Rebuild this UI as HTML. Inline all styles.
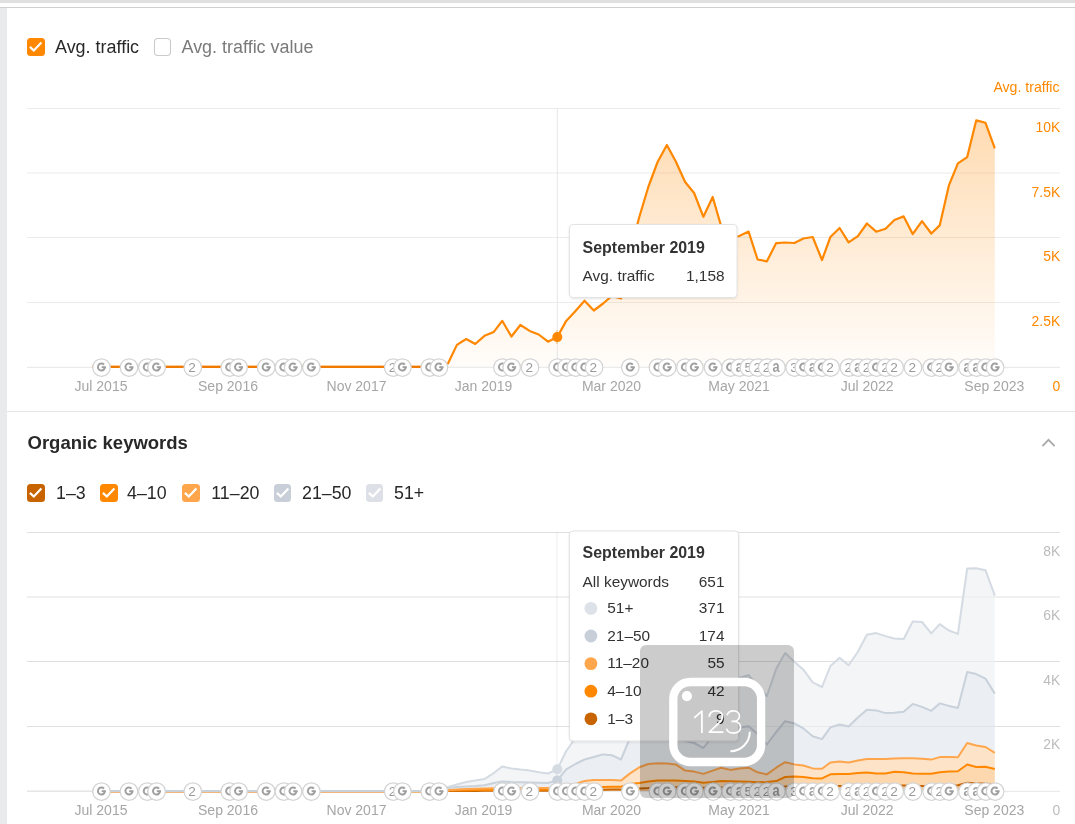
<!DOCTYPE html>
<html><head><meta charset="utf-8"><style>
html,body{margin:0;padding:0;background:#fff;width:1075px;height:824px;overflow:hidden}
svg{display:block;will-change:transform;font-family:"Liberation Sans",sans-serif}
.lbl{font-size:17.95px;fill:#282828}
.lbl2{font-size:17.8px;fill:#282828}
.g7{fill:#7a7a7a}
.h2{font-size:18.5px;font-weight:bold;fill:#282828}
.xl{font-size:14px;fill:#a6a6a6}
.yl1{font-size:13.9px;fill:#ff8800}
.yl1b{font-size:14.1px;fill:#ff8800}
.yl2{font-size:13.9px;fill:#bcbcbc}
.mk{font-size:13.6px;fill:#9a9a9a}
.mka{font-size:12.2px;font-weight:bold;fill:#9e9e9e}
.tth{font-size:15.95px;font-weight:bold;fill:#333}
.ttt{font-size:15.4px;fill:#333}
.ocr{font-size:29px;fill:#fff;font-weight:normal}
</style></head><body>
<svg width="1075" height="824" viewBox="0 0 1075 824">
<defs><filter id="sh" x="-10%" y="-10%" width="120%" height="130%"><feDropShadow dx="0" dy="1" stdDeviation="1.2" flood-color="#000" flood-opacity="0.10"/></filter></defs>
<rect x="0" y="0" width="1075" height="3" fill="#e0e0e0"/>
<rect x="0" y="7" width="1075" height="1" fill="#cfd1d1"/>
<rect x="0" y="8" width="7" height="816" fill="#e9eaec"/>
<rect x="7" y="411" width="1068" height="1" fill="#e6e6e6"/>
<rect x="27" y="38" width="18" height="18" rx="3.5" fill="#ff8800"/><path d="M29.9,46.9 l3.9,3.6 l7.6,-7.9" fill="none" stroke="#fff" stroke-width="2.2"/>
<text x="55" y="52.7" class="lbl">Avg. traffic</text>
<rect x="154.5" y="38.5" width="16" height="17" rx="3.5" fill="#fff" stroke="#cacaca" stroke-width="1.1"/>
<text x="181.5" y="52.7" class="lbl g7">Avg. traffic value</text>
<text x="27.5" y="449" class="h2">Organic keywords</text>
<path d="M1042.4,446.1 L1048.5,439.8 L1054.6,446.1" fill="none" stroke="#a9a9a9" stroke-width="1.8"/>
<rect x="27" y="484" width="18" height="18" rx="3.5" fill="#c86400"/><path d="M29.9,492.9 l3.9,3.6 l7.6,-7.9" fill="none" stroke="#fff" stroke-width="2.2"/>
<text x="56" y="498.8" class="lbl2">1–3</text>
<rect x="100" y="484" width="18" height="18" rx="3.5" fill="#ff8800"/><path d="M102.9,492.9 l3.9,3.6 l7.6,-7.9" fill="none" stroke="#fff" stroke-width="2.2"/>
<text x="127" y="498.8" class="lbl2">4–10</text>
<rect x="182" y="484" width="18" height="18" rx="3.5" fill="#ffa64d"/><path d="M184.9,492.9 l3.9,3.6 l7.6,-7.9" fill="none" stroke="#fff" stroke-width="2.2"/>
<text x="211.3" y="498.8" class="lbl2">11–20</text>
<rect x="274" y="484" width="17" height="18" rx="3.5" fill="#c8cfd8"/><path d="M276.9,492.9 l3.9,3.6 l7.6,-7.9" fill="none" stroke="#fff" stroke-width="2.2"/>
<text x="302" y="498.8" class="lbl2">21–50</text>
<rect x="366" y="484" width="17" height="18" rx="3.5" fill="#dde1e7"/><path d="M368.9,492.9 l3.9,3.6 l7.6,-7.9" fill="none" stroke="#fff" stroke-width="2.2"/>
<text x="394" y="498.8" class="lbl2">51+</text>
<rect x="27" y="108" width="1033" height="1" fill="#ebebeb"/>
<rect x="27" y="172.5" width="1033" height="1" fill="#ebebeb"/>
<rect x="27" y="237" width="1033" height="1" fill="#ebebeb"/>
<rect x="27" y="302" width="1033" height="1" fill="#ebebeb"/>
<rect x="27" y="366.8" width="1033" height="1" fill="#e6e6e6"/>
<defs><linearGradient id="g1" x1="0" y1="0" x2="0" y2="1" gradientUnits="objectBoundingBox"><stop offset="0" stop-color="#ff8800" stop-opacity="0.30"/><stop offset="1" stop-color="#ff8800" stop-opacity="0.02"/></linearGradient></defs>
<polygon points="438.7,366.9 448,363.5 456.9,344.9 466.2,339 475.2,344 484.5,335.8 493.8,331.9 502.2,320.8 511.4,336.5 520.4,325 529.7,330.9 538.7,334.5 548,341.7 557.3,337.1 566.2,320.9 575.5,311 584.5,300.7 593.8,310.5 603.1,303.5 611.8,296 621,298.5 630,252 639.3,217 648.3,187 657.6,162 666.9,145 675.8,161.5 685.1,182 694.1,193 703.4,216.8 712.7,197 721.1,226 730.3,238 739.3,236 748.6,231.6 757.6,259.5 766.9,261.3 776.2,243.1 785.1,242.5 794.4,243 803.4,238.5 812.7,237 822,260 830.4,237 839.6,228 848.6,242.4 857.9,236.1 866.9,223.5 876.2,231.7 885.5,228.8 894.4,220 903.7,216.4 912.7,234.1 922,221.2 931.3,233.5 939.7,225.4 948.9,185.4 957.9,163.4 967.2,157.1 976.2,120.4 985.5,122.8 994.8,148.4 994.8,366.9" fill="url(#g1)"/>
<rect x="556.8" y="108" width="1" height="259" fill="#e6e6e6"/>
<polyline points="92.2,366.9 438.7,366.9 448,363.5 456.9,344.9 466.2,339 475.2,344 484.5,335.8 493.8,331.9 502.2,320.8 511.4,336.5 520.4,325 529.7,330.9 538.7,334.5 548,341.7 557.3,337.1 566.2,320.9 575.5,311 584.5,300.7 593.8,310.5 603.1,303.5 611.8,296 621,298.5 630,252 639.3,217 648.3,187 657.6,162 666.9,145 675.8,161.5 685.1,182 694.1,193 703.4,216.8 712.7,197 721.1,226 730.3,238 739.3,236 748.6,231.6 757.6,259.5 766.9,261.3 776.2,243.1 785.1,242.5 794.4,243 803.4,238.5 812.7,237 822,260 830.4,237 839.6,228 848.6,242.4 857.9,236.1 866.9,223.5 876.2,231.7 885.5,228.8 894.4,220 903.7,216.4 912.7,234.1 922,221.2 931.3,233.5 939.7,225.4 948.9,185.4 957.9,163.4 967.2,157.1 976.2,120.4 985.5,122.8 994.8,148.4" fill="none" stroke="#ff8800" stroke-width="2.2" stroke-linejoin="round"/>
<rect x="92.2" y="365.8" width="346.5" height="2.1" fill="#ef7800"/>
<circle cx="557.3" cy="337.1" r="5" fill="#ff8800"/>
<rect x="556.5" y="330" width="1" height="14" fill="#e08000" opacity="0.5"/>
<circle cx="101.5" cy="367.5" r="8.75" fill="#fff" stroke="#d4d4d4" stroke-width="1.25"/><path d="M104,364.7 A3.5,3.5 0 1 0 104.9,367.1" fill="none" stroke="#a0a0a0" stroke-width="2"/><rect x="101.7" y="366.2" width="4.2" height="1.9" fill="#a0a0a0"/>
<circle cx="129" cy="367.5" r="8.75" fill="#fff" stroke="#d4d4d4" stroke-width="1.25"/><path d="M131.6,364.7 A3.5,3.5 0 1 0 132.4,367.1" fill="none" stroke="#a0a0a0" stroke-width="2"/><rect x="129.2" y="366.2" width="4.2" height="1.9" fill="#a0a0a0"/>
<circle cx="147.3" cy="367.5" r="8.75" fill="#fff" stroke="#d4d4d4" stroke-width="1.25"/><path d="M149.8,364.7 A3.5,3.5 0 1 0 150.7,367.1" fill="none" stroke="#a0a0a0" stroke-width="2"/><rect x="147.5" y="366.2" width="4.2" height="1.9" fill="#a0a0a0"/>
<circle cx="156.6" cy="367.5" r="8.75" fill="#fff" stroke="#d4d4d4" stroke-width="1.25"/><path d="M159.1,364.7 A3.5,3.5 0 1 0 160,367.1" fill="none" stroke="#a0a0a0" stroke-width="2"/><rect x="156.8" y="366.2" width="4.2" height="1.9" fill="#a0a0a0"/>
<circle cx="192.8" cy="367.5" r="8.75" fill="#fff" stroke="#d4d4d4" stroke-width="1.25"/><text x="192.1" y="372" text-anchor="middle" class="mk">2</text>
<circle cx="229.7" cy="367.5" r="8.75" fill="#fff" stroke="#d4d4d4" stroke-width="1.25"/><path d="M232.2,364.7 A3.5,3.5 0 1 0 233.1,367.1" fill="none" stroke="#a0a0a0" stroke-width="2"/><rect x="229.9" y="366.2" width="4.2" height="1.9" fill="#a0a0a0"/>
<circle cx="238.6" cy="367.5" r="8.75" fill="#fff" stroke="#d4d4d4" stroke-width="1.25"/><path d="M241.1,364.7 A3.5,3.5 0 1 0 242,367.1" fill="none" stroke="#a0a0a0" stroke-width="2"/><rect x="238.8" y="366.2" width="4.2" height="1.9" fill="#a0a0a0"/>
<circle cx="266.2" cy="367.5" r="8.75" fill="#fff" stroke="#d4d4d4" stroke-width="1.25"/><path d="M268.7,364.7 A3.5,3.5 0 1 0 269.6,367.1" fill="none" stroke="#a0a0a0" stroke-width="2"/><rect x="266.4" y="366.2" width="4.2" height="1.9" fill="#a0a0a0"/>
<circle cx="283.9" cy="367.5" r="8.75" fill="#fff" stroke="#d4d4d4" stroke-width="1.25"/><path d="M286.4,364.7 A3.5,3.5 0 1 0 287.3,367.1" fill="none" stroke="#a0a0a0" stroke-width="2"/><rect x="284.1" y="366.2" width="4.2" height="1.9" fill="#a0a0a0"/>
<circle cx="293.1" cy="367.5" r="8.75" fill="#fff" stroke="#d4d4d4" stroke-width="1.25"/><path d="M295.6,364.7 A3.5,3.5 0 1 0 296.5,367.1" fill="none" stroke="#a0a0a0" stroke-width="2"/><rect x="293.3" y="366.2" width="4.2" height="1.9" fill="#a0a0a0"/>
<circle cx="311.4" cy="367.5" r="8.75" fill="#fff" stroke="#d4d4d4" stroke-width="1.25"/><path d="M313.9,364.7 A3.5,3.5 0 1 0 314.8,367.1" fill="none" stroke="#a0a0a0" stroke-width="2"/><rect x="311.6" y="366.2" width="4.2" height="1.9" fill="#a0a0a0"/>
<circle cx="393.2" cy="367.5" r="8.75" fill="#fff" stroke="#d4d4d4" stroke-width="1.25"/><text x="392.5" y="372" text-anchor="middle" class="mk">2</text>
<circle cx="402.4" cy="367.5" r="8.75" fill="#fff" stroke="#d4d4d4" stroke-width="1.25"/><path d="M404.9,364.7 A3.5,3.5 0 1 0 405.8,367.1" fill="none" stroke="#a0a0a0" stroke-width="2"/><rect x="402.6" y="366.2" width="4.2" height="1.9" fill="#a0a0a0"/>
<circle cx="429.7" cy="367.5" r="8.75" fill="#fff" stroke="#d4d4d4" stroke-width="1.25"/><path d="M432.2,364.7 A3.5,3.5 0 1 0 433.1,367.1" fill="none" stroke="#a0a0a0" stroke-width="2"/><rect x="429.9" y="366.2" width="4.2" height="1.9" fill="#a0a0a0"/>
<circle cx="439" cy="367.5" r="8.75" fill="#fff" stroke="#d4d4d4" stroke-width="1.25"/><path d="M441.5,364.7 A3.5,3.5 0 1 0 442.4,367.1" fill="none" stroke="#a0a0a0" stroke-width="2"/><rect x="439.2" y="366.2" width="4.2" height="1.9" fill="#a0a0a0"/>
<circle cx="502.5" cy="367.5" r="8.75" fill="#fff" stroke="#d4d4d4" stroke-width="1.25"/><path d="M505,364.7 A3.5,3.5 0 1 0 505.9,367.1" fill="none" stroke="#a0a0a0" stroke-width="2"/><rect x="502.7" y="366.2" width="4.2" height="1.9" fill="#a0a0a0"/>
<circle cx="511.7" cy="367.5" r="8.75" fill="#fff" stroke="#d4d4d4" stroke-width="1.25"/><path d="M514.2,364.7 A3.5,3.5 0 1 0 515.1,367.1" fill="none" stroke="#a0a0a0" stroke-width="2"/><rect x="511.9" y="366.2" width="4.2" height="1.9" fill="#a0a0a0"/>
<circle cx="530" cy="367.5" r="8.75" fill="#fff" stroke="#d4d4d4" stroke-width="1.25"/><text x="529.3" y="372" text-anchor="middle" class="mk">2</text>
<circle cx="557.6" cy="367.5" r="8.75" fill="#fff" stroke="#d4d4d4" stroke-width="1.25"/><path d="M560.1,364.7 A3.5,3.5 0 1 0 561,367.1" fill="none" stroke="#a0a0a0" stroke-width="2"/><rect x="557.8" y="366.2" width="4.2" height="1.9" fill="#a0a0a0"/>
<circle cx="566.5" cy="367.5" r="8.75" fill="#fff" stroke="#d4d4d4" stroke-width="1.25"/><path d="M569,364.7 A3.5,3.5 0 1 0 569.9,367.1" fill="none" stroke="#a0a0a0" stroke-width="2"/><rect x="566.7" y="366.2" width="4.2" height="1.9" fill="#a0a0a0"/>
<circle cx="575.8" cy="367.5" r="8.75" fill="#fff" stroke="#d4d4d4" stroke-width="1.25"/><path d="M578.3,364.7 A3.5,3.5 0 1 0 579.2,367.1" fill="none" stroke="#a0a0a0" stroke-width="2"/><rect x="576" y="366.2" width="4.2" height="1.9" fill="#a0a0a0"/>
<circle cx="584.8" cy="367.5" r="8.75" fill="#fff" stroke="#d4d4d4" stroke-width="1.25"/><path d="M587.3,364.7 A3.5,3.5 0 1 0 588.2,367.1" fill="none" stroke="#a0a0a0" stroke-width="2"/><rect x="585" y="366.2" width="4.2" height="1.9" fill="#a0a0a0"/>
<circle cx="594.1" cy="367.5" r="8.75" fill="#fff" stroke="#d4d4d4" stroke-width="1.25"/><text x="593.4" y="372" text-anchor="middle" class="mk">2</text>
<circle cx="630.3" cy="367.5" r="8.75" fill="#fff" stroke="#d4d4d4" stroke-width="1.25"/><path d="M632.8,364.7 A3.5,3.5 0 1 0 633.7,367.1" fill="none" stroke="#a0a0a0" stroke-width="2"/><rect x="630.5" y="366.2" width="4.2" height="1.9" fill="#a0a0a0"/>
<circle cx="657.9" cy="367.5" r="8.75" fill="#fff" stroke="#d4d4d4" stroke-width="1.25"/><path d="M660.4,364.7 A3.5,3.5 0 1 0 661.3,367.1" fill="none" stroke="#a0a0a0" stroke-width="2"/><rect x="658.1" y="366.2" width="4.2" height="1.9" fill="#a0a0a0"/>
<circle cx="667.2" cy="367.5" r="8.75" fill="#fff" stroke="#d4d4d4" stroke-width="1.25"/><path d="M669.7,364.7 A3.5,3.5 0 1 0 670.6,367.1" fill="none" stroke="#a0a0a0" stroke-width="2"/><rect x="667.4" y="366.2" width="4.2" height="1.9" fill="#a0a0a0"/>
<circle cx="685.4" cy="367.5" r="8.75" fill="#fff" stroke="#d4d4d4" stroke-width="1.25"/><path d="M687.9,364.7 A3.5,3.5 0 1 0 688.8,367.1" fill="none" stroke="#a0a0a0" stroke-width="2"/><rect x="685.6" y="366.2" width="4.2" height="1.9" fill="#a0a0a0"/>
<circle cx="694.4" cy="367.5" r="8.75" fill="#fff" stroke="#d4d4d4" stroke-width="1.25"/><path d="M696.9,364.7 A3.5,3.5 0 1 0 697.8,367.1" fill="none" stroke="#a0a0a0" stroke-width="2"/><rect x="694.6" y="366.2" width="4.2" height="1.9" fill="#a0a0a0"/>
<circle cx="713" cy="367.5" r="8.75" fill="#fff" stroke="#d4d4d4" stroke-width="1.25"/><path d="M715.5,364.7 A3.5,3.5 0 1 0 716.4,367.1" fill="none" stroke="#a0a0a0" stroke-width="2"/><rect x="713.2" y="366.2" width="4.2" height="1.9" fill="#a0a0a0"/>
<circle cx="730.6" cy="367.5" r="8.75" fill="#fff" stroke="#d4d4d4" stroke-width="1.25"/><path d="M733.1,364.7 A3.5,3.5 0 1 0 734,367.1" fill="none" stroke="#a0a0a0" stroke-width="2"/><rect x="730.8" y="366.2" width="4.2" height="1.9" fill="#a0a0a0"/>
<circle cx="739.6" cy="367.5" r="8.75" fill="#fff" stroke="#d4d4d4" stroke-width="1.25"/><text transform="translate(739.2,371.9) scale(1.05,1.38)" text-anchor="middle" class="mka">a</text>
<circle cx="748.9" cy="367.5" r="8.75" fill="#fff" stroke="#d4d4d4" stroke-width="1.25"/><text x="748.2" y="372" text-anchor="middle" class="mk">5</text>
<circle cx="757.9" cy="367.5" r="8.75" fill="#fff" stroke="#d4d4d4" stroke-width="1.25"/><text x="757.2" y="372" text-anchor="middle" class="mk">2</text>
<circle cx="767.2" cy="367.5" r="8.75" fill="#fff" stroke="#d4d4d4" stroke-width="1.25"/><text x="766.5" y="372" text-anchor="middle" class="mk">2</text>
<circle cx="776.5" cy="367.5" r="8.75" fill="#fff" stroke="#d4d4d4" stroke-width="1.25"/><text transform="translate(776.1,371.9) scale(1.05,1.38)" text-anchor="middle" class="mka">a</text>
<circle cx="794.7" cy="367.5" r="8.75" fill="#fff" stroke="#d4d4d4" stroke-width="1.25"/><text x="794" y="372" text-anchor="middle" class="mk">3</text>
<circle cx="803.7" cy="367.5" r="8.75" fill="#fff" stroke="#d4d4d4" stroke-width="1.25"/><path d="M806.2,364.7 A3.5,3.5 0 1 0 807.1,367.1" fill="none" stroke="#a0a0a0" stroke-width="2"/><rect x="803.9" y="366.2" width="4.2" height="1.9" fill="#a0a0a0"/>
<circle cx="813" cy="367.5" r="8.75" fill="#fff" stroke="#d4d4d4" stroke-width="1.25"/><text transform="translate(812.6,371.9) scale(1.05,1.38)" text-anchor="middle" class="mka">a</text>
<circle cx="822.3" cy="367.5" r="8.75" fill="#fff" stroke="#d4d4d4" stroke-width="1.25"/><path d="M824.8,364.7 A3.5,3.5 0 1 0 825.7,367.1" fill="none" stroke="#a0a0a0" stroke-width="2"/><rect x="822.5" y="366.2" width="4.2" height="1.9" fill="#a0a0a0"/>
<circle cx="830.7" cy="367.5" r="8.75" fill="#fff" stroke="#d4d4d4" stroke-width="1.25"/><text x="830" y="372" text-anchor="middle" class="mk">2</text>
<circle cx="848.9" cy="367.5" r="8.75" fill="#fff" stroke="#d4d4d4" stroke-width="1.25"/><text x="848.2" y="372" text-anchor="middle" class="mk">2</text>
<circle cx="858.2" cy="367.5" r="8.75" fill="#fff" stroke="#d4d4d4" stroke-width="1.25"/><text transform="translate(857.8,371.9) scale(1.05,1.38)" text-anchor="middle" class="mka">a</text>
<circle cx="867.2" cy="367.5" r="8.75" fill="#fff" stroke="#d4d4d4" stroke-width="1.25"/><text x="866.5" y="372" text-anchor="middle" class="mk">2</text>
<circle cx="876.5" cy="367.5" r="8.75" fill="#fff" stroke="#d4d4d4" stroke-width="1.25"/><path d="M879,364.7 A3.5,3.5 0 1 0 879.9,367.1" fill="none" stroke="#a0a0a0" stroke-width="2"/><rect x="876.7" y="366.2" width="4.2" height="1.9" fill="#a0a0a0"/>
<circle cx="885.8" cy="367.5" r="8.75" fill="#fff" stroke="#d4d4d4" stroke-width="1.25"/><text x="885.1" y="372" text-anchor="middle" class="mk">2</text>
<circle cx="894.7" cy="367.5" r="8.75" fill="#fff" stroke="#d4d4d4" stroke-width="1.25"/><text x="894" y="372" text-anchor="middle" class="mk">2</text>
<circle cx="913" cy="367.5" r="8.75" fill="#fff" stroke="#d4d4d4" stroke-width="1.25"/><text x="912.3" y="372" text-anchor="middle" class="mk">2</text>
<circle cx="931.6" cy="367.5" r="8.75" fill="#fff" stroke="#d4d4d4" stroke-width="1.25"/><path d="M934.1,364.7 A3.5,3.5 0 1 0 935,367.1" fill="none" stroke="#a0a0a0" stroke-width="2"/><rect x="931.8" y="366.2" width="4.2" height="1.9" fill="#a0a0a0"/>
<circle cx="940" cy="367.5" r="8.75" fill="#fff" stroke="#d4d4d4" stroke-width="1.25"/><text x="939.3" y="372" text-anchor="middle" class="mk">2</text>
<circle cx="949.2" cy="367.5" r="8.75" fill="#fff" stroke="#d4d4d4" stroke-width="1.25"/><path d="M951.7,364.7 A3.5,3.5 0 1 0 952.6,367.1" fill="none" stroke="#a0a0a0" stroke-width="2"/><rect x="949.4" y="366.2" width="4.2" height="1.9" fill="#a0a0a0"/>
<circle cx="967.5" cy="367.5" r="8.75" fill="#fff" stroke="#d4d4d4" stroke-width="1.25"/><text transform="translate(967.1,371.9) scale(1.05,1.38)" text-anchor="middle" class="mka">a</text>
<circle cx="976.5" cy="367.5" r="8.75" fill="#fff" stroke="#d4d4d4" stroke-width="1.25"/><text transform="translate(976.1,371.9) scale(1.05,1.38)" text-anchor="middle" class="mka">a</text>
<circle cx="985.8" cy="367.5" r="8.75" fill="#fff" stroke="#d4d4d4" stroke-width="1.25"/><path d="M988.3,364.7 A3.5,3.5 0 1 0 989.2,367.1" fill="none" stroke="#a0a0a0" stroke-width="2"/><rect x="986" y="366.2" width="4.2" height="1.9" fill="#a0a0a0"/>
<circle cx="995.1" cy="367.5" r="8.75" fill="#fff" stroke="#d4d4d4" stroke-width="1.25"/><path d="M997.6,364.7 A3.5,3.5 0 1 0 998.5,367.1" fill="none" stroke="#a0a0a0" stroke-width="2"/><rect x="995.3" y="366.2" width="4.2" height="1.9" fill="#a0a0a0"/>
<text x="101" y="390.9" text-anchor="middle" class="xl">Jul 2015</text>
<text x="228" y="390.9" text-anchor="middle" class="xl">Sep 2016</text>
<text x="356.5" y="390.9" text-anchor="middle" class="xl">Nov 2017</text>
<text x="483.5" y="390.9" text-anchor="middle" class="xl">Jan 2019</text>
<text x="611.5" y="390.9" text-anchor="middle" class="xl">Mar 2020</text>
<text x="739.1" y="390.9" text-anchor="middle" class="xl">May 2021</text>
<text x="867.2" y="390.9" text-anchor="middle" class="xl">Jul 2022</text>
<text x="994.3" y="390.9" text-anchor="middle" class="xl">Sep 2023</text>
<text x="1060.2" y="132" text-anchor="end" class="yl1">10K</text>
<text x="1060.2" y="196.5" text-anchor="end" class="yl1">7.5K</text>
<text x="1060.2" y="261" text-anchor="end" class="yl1">5K</text>
<text x="1060.2" y="325.5" text-anchor="end" class="yl1">2.5K</text>
<text x="1060.2" y="390.6" text-anchor="end" class="yl1">0</text>
<text x="1059.5" y="92" text-anchor="end" class="yl1b">Avg. traffic</text>
<rect x="27" y="532" width="1033" height="1" fill="#ebebeb"/>
<rect x="27" y="596.5" width="1033" height="1" fill="#ebebeb"/>
<rect x="27" y="661" width="1033" height="1" fill="#ebebeb"/>
<rect x="27" y="726" width="1033" height="1" fill="#ebebeb"/>
<rect x="27" y="790.8" width="1033" height="1" fill="#e6e6e6"/>
<polygon points="438.7,791 448,787 456.9,784.5 466.2,782 475.2,780.5 484.5,779.1 493.8,773 502.2,766.5 511.4,768.5 520.4,769.6 529.7,770.4 538.7,772.2 548,773.5 557.3,769.3 566.2,751 575.5,738 584.5,728 593.8,730 603.1,724 611.8,720 621,724 630,702 639.3,690 648.3,680 657.6,672 666.9,666 675.8,672 685.1,680 694.1,686 703.4,694 712.7,688 721.1,690 730.3,684 739.3,677.7 748.6,675.2 757.6,686 766.9,696 776.2,668.7 785.1,653 794.4,661.7 803.4,669.7 812.7,682.4 822,687 830.4,666 839.6,657.7 848.6,665.3 857.9,651.7 866.9,634.8 876.2,633.1 885.5,636.1 894.4,638.5 903.7,639 912.7,621.5 922,622 931.3,633.4 939.7,624.2 948.9,630.5 957.9,633.9 967.2,568.5 976.2,568.2 985.5,570.2 994.8,595.7 994.8,693.6 985.5,678.6 976.2,674.1 967.2,672.1 957.9,707.9 948.9,705.9 939.7,703.4 931.3,710.8 922,706.9 912.7,703.9 903.7,711.8 894.4,712.7 885.5,713.1 876.2,710.4 866.9,709.8 857.9,717.6 848.6,726.4 839.6,724.5 830.4,727.4 822,739.1 812.7,736.2 803.4,728.4 794.4,723.5 785.1,721.2 776.2,732 766.9,744.5 757.6,734 748.6,726.2 739.3,727.5 730.3,730 721.1,732 712.7,736 703.4,748 694.1,743 685.1,741 675.8,739 666.9,737 657.6,735 648.3,733 639.3,735 630,738 621,759.5 611.8,755.2 603.1,754.4 593.8,757 584.5,759.5 575.5,764 566.2,769.4 557.3,780.4 548,783 538.7,782.8 529.7,782.5 520.4,782.3 511.4,782 502.2,781.4 493.8,783 484.5,785.2 475.2,786 466.2,786.5 456.9,787 448,788 438.7,791" fill="#f3f5f7"/>
<polygon points="438.7,791 448,788 456.9,787 466.2,786.5 475.2,786 484.5,785.2 493.8,783 502.2,781.4 511.4,782 520.4,782.3 529.7,782.5 538.7,782.8 548,783 557.3,780.4 566.2,769.4 575.5,764 584.5,759.5 593.8,757 603.1,754.4 611.8,755.2 621,759.5 630,738 639.3,735 648.3,733 657.6,735 666.9,737 675.8,739 685.1,741 694.1,743 703.4,748 712.7,736 721.1,732 730.3,730 739.3,727.5 748.6,726.2 757.6,734 766.9,744.5 776.2,732 785.1,721.2 794.4,723.5 803.4,728.4 812.7,736.2 822,739.1 830.4,727.4 839.6,724.5 848.6,726.4 857.9,717.6 866.9,709.8 876.2,710.4 885.5,713.1 894.4,712.7 903.7,711.8 912.7,703.9 922,706.9 931.3,710.8 939.7,703.4 948.9,705.9 957.9,707.9 967.2,672.1 976.2,674.1 985.5,678.6 994.8,693.6 994.8,752.9 985.5,747 976.2,745.5 967.2,743 957.9,757.2 948.9,757 939.7,757.1 931.3,759.6 922,758.8 912.7,758.2 903.7,758.2 894.4,758.6 885.5,759 876.2,759 866.9,759 857.9,760.6 848.6,762.5 839.6,761.6 830.4,762.5 822,768.8 812.7,768.4 803.4,765.5 794.4,764.4 785.1,762.2 776.2,767.7 766.9,774.4 757.6,772.3 748.6,767.7 739.3,768.6 730.3,769.9 721.1,767.7 712.7,770.6 703.4,773.9 694.1,771.6 685.1,770.6 675.8,764.4 666.9,763.5 657.6,763.2 648.3,764 639.3,767.3 630,773.4 621,780.6 611.8,780.1 603.1,780 593.8,780 584.5,781 575.5,784 566.2,785.5 557.3,787.6 548,787.9 538.7,787.9 529.7,787.9 520.4,788 511.4,788.1 502.2,788 493.8,788.2 484.5,788.4 475.2,788.7 466.2,789 456.9,789.5 448,790 438.7,791" fill="#ebeff3"/>
<polygon points="438.7,791 448,790 456.9,789.5 466.2,789 475.2,788.7 484.5,788.4 493.8,788.2 502.2,788 511.4,788.1 520.4,788 529.7,787.9 538.7,787.9 548,787.9 557.3,787.6 566.2,785.5 575.5,784 584.5,781 593.8,780 603.1,780 611.8,780.1 621,780.6 630,773.4 639.3,767.3 648.3,764 657.6,763.2 666.9,763.5 675.8,764.4 685.1,770.6 694.1,771.6 703.4,773.9 712.7,770.6 721.1,767.7 730.3,769.9 739.3,768.6 748.6,767.7 757.6,772.3 766.9,774.4 776.2,767.7 785.1,762.2 794.4,764.4 803.4,765.5 812.7,768.4 822,768.8 830.4,762.5 839.6,761.6 848.6,762.5 857.9,760.6 866.9,759 876.2,759 885.5,759 894.4,758.6 903.7,758.2 912.7,758.2 922,758.8 931.3,759.6 939.7,757.1 948.9,757 957.9,757.2 967.2,743 976.2,745.5 985.5,747 994.8,752.9 994.8,769 985.5,766.7 976.2,767 967.2,764.5 957.9,771.3 948.9,771.5 939.7,772.3 931.3,773.8 922,773.7 912.7,773.4 903.7,772.3 894.4,771.7 885.5,773.5 876.2,773.4 866.9,772.5 857.9,772.9 848.6,773.9 839.6,774 830.4,774.3 822,778.4 812.7,778.2 803.4,777 794.4,776.6 785.1,777 776.2,781.1 766.9,782 757.6,782.3 748.6,781.8 739.3,781.6 730.3,781.3 721.1,781.1 712.7,782 703.4,782.8 694.1,781.6 685.1,781 675.8,780.6 666.9,780.6 657.6,780.6 648.3,781.5 639.3,782.9 630,784 621,786.8 611.8,786.8 603.1,786.9 593.8,787 584.5,787.2 575.5,787.8 566.2,788.5 557.3,789.4 548,789.6 538.7,789.7 529.7,789.7 520.4,789.8 511.4,789.8 502.2,789.8 493.8,789.9 484.5,790 475.2,790.1 466.2,790.2 456.9,790.3 448,790.4 438.7,791" fill="#fde4c8"/>
<polygon points="438.7,791 448,790.4 456.9,790.3 466.2,790.2 475.2,790.1 484.5,790 493.8,789.9 502.2,789.8 511.4,789.8 520.4,789.8 529.7,789.7 538.7,789.7 548,789.6 557.3,789.4 566.2,788.5 575.5,787.8 584.5,787.2 593.8,787 603.1,786.9 611.8,786.8 621,786.8 630,784 639.3,782.9 648.3,781.5 657.6,780.6 666.9,780.6 675.8,780.6 685.1,781 694.1,781.6 703.4,782.8 712.7,782 721.1,781.1 730.3,781.3 739.3,781.6 748.6,781.8 757.6,782.3 766.9,782 776.2,781.1 785.1,777 794.4,776.6 803.4,777 812.7,778.2 822,778.4 830.4,774.3 839.6,774 848.6,773.9 857.9,772.9 866.9,772.5 876.2,773.4 885.5,773.5 894.4,771.7 903.7,772.3 912.7,773.4 922,773.7 931.3,773.8 939.7,772.3 948.9,771.5 957.9,771.3 967.2,764.5 976.2,767 985.5,766.7 994.8,769 994.8,784.5 985.5,783.6 976.2,783.6 967.2,782.8 957.9,785.3 948.9,785.4 939.7,785.6 931.3,785.9 922,785.9 912.7,785.8 903.7,785.6 894.4,785.5 885.5,785.8 876.2,785.8 866.9,785.6 857.9,785.8 848.6,786 839.6,786 830.4,786.1 822,786.9 812.7,786.8 803.4,786.6 794.4,786.5 785.1,786.6 776.2,787.4 766.9,787.6 757.6,787.6 748.6,787.5 739.3,787.5 730.3,787.4 721.1,787.4 712.7,787.6 703.4,787.8 694.1,787.5 685.1,787.4 675.8,787.2 666.9,787.2 657.6,787.3 648.3,788 639.3,788.4 630,788.8 621,789.4 611.8,789.6 603.1,789.7 593.8,789.8 584.5,789.9 575.5,790 566.2,790.1 557.3,790.7 548,790.7 538.7,790.8 529.7,790.8 520.4,790.8 511.4,790.8 502.2,790.8 493.8,790.8 484.5,790.8 475.2,790.9 466.2,790.9 456.9,790.9 448,790.9 438.7,791" fill="#fdd8ae"/>
<polygon points="438.7,791 448,790.9 456.9,790.9 466.2,790.9 475.2,790.9 484.5,790.8 493.8,790.8 502.2,790.8 511.4,790.8 520.4,790.8 529.7,790.8 538.7,790.8 548,790.7 557.3,790.7 566.2,790.1 575.5,790 584.5,789.9 593.8,789.8 603.1,789.7 611.8,789.6 621,789.4 630,788.8 639.3,788.4 648.3,788 657.6,787.3 666.9,787.2 675.8,787.2 685.1,787.4 694.1,787.5 703.4,787.8 712.7,787.6 721.1,787.4 730.3,787.4 739.3,787.5 748.6,787.5 757.6,787.6 766.9,787.6 776.2,787.4 785.1,786.6 794.4,786.5 803.4,786.6 812.7,786.8 822,786.9 830.4,786.1 839.6,786 848.6,786 857.9,785.8 866.9,785.6 876.2,785.8 885.5,785.8 894.4,785.5 903.7,785.6 912.7,785.8 922,785.9 931.3,785.9 939.7,785.6 948.9,785.4 957.9,785.3 967.2,782.8 976.2,783.6 985.5,783.6 994.8,784.5 994.8,791 438.7,791" fill="#f3c08a"/>
<rect x="27" y="532" width="1033" height="1" fill="#000" fill-opacity="0.045"/>
<rect x="27" y="596.5" width="1033" height="1" fill="#000" fill-opacity="0.045"/>
<rect x="27" y="661" width="1033" height="1" fill="#000" fill-opacity="0.045"/>
<rect x="27" y="726" width="1033" height="1" fill="#000" fill-opacity="0.045"/>
<rect x="556.5" y="532" width="1" height="259" fill="#000" fill-opacity="0.07"/>
<rect x="27" y="790.5" width="65.2" height="1.2" fill="#e6e6e6"/>
<polyline points="92.2,791 438.7,791 448,790.9 456.9,790.9 466.2,790.9 475.2,790.9 484.5,790.8 493.8,790.8 502.2,790.8 511.4,790.8 520.4,790.8 529.7,790.8 538.7,790.8 548,790.7 557.3,790.7 566.2,790.1 575.5,790 584.5,789.9 593.8,789.8 603.1,789.7 611.8,789.6 621,789.4 630,788.8 639.3,788.4 648.3,788 657.6,787.3 666.9,787.2 675.8,787.2 685.1,787.4 694.1,787.5 703.4,787.8 712.7,787.6 721.1,787.4 730.3,787.4 739.3,787.5 748.6,787.5 757.6,787.6 766.9,787.6 776.2,787.4 785.1,786.6 794.4,786.5 803.4,786.6 812.7,786.8 822,786.9 830.4,786.1 839.6,786 848.6,786 857.9,785.8 866.9,785.6 876.2,785.8 885.5,785.8 894.4,785.5 903.7,785.6 912.7,785.8 922,785.9 931.3,785.9 939.7,785.6 948.9,785.4 957.9,785.3 967.2,782.8 976.2,783.6 985.5,783.6 994.8,784.5" fill="none" stroke="#c96500" stroke-width="2" stroke-linejoin="round"/>
<polyline points="92.2,791 438.7,791 448,790.4 456.9,790.3 466.2,790.2 475.2,790.1 484.5,790 493.8,789.9 502.2,789.8 511.4,789.8 520.4,789.8 529.7,789.7 538.7,789.7 548,789.6 557.3,789.4 566.2,788.5 575.5,787.8 584.5,787.2 593.8,787 603.1,786.9 611.8,786.8 621,786.8 630,784 639.3,782.9 648.3,781.5 657.6,780.6 666.9,780.6 675.8,780.6 685.1,781 694.1,781.6 703.4,782.8 712.7,782 721.1,781.1 730.3,781.3 739.3,781.6 748.6,781.8 757.6,782.3 766.9,782 776.2,781.1 785.1,777 794.4,776.6 803.4,777 812.7,778.2 822,778.4 830.4,774.3 839.6,774 848.6,773.9 857.9,772.9 866.9,772.5 876.2,773.4 885.5,773.5 894.4,771.7 903.7,772.3 912.7,773.4 922,773.7 931.3,773.8 939.7,772.3 948.9,771.5 957.9,771.3 967.2,764.5 976.2,767 985.5,766.7 994.8,769" fill="none" stroke="#ff8800" stroke-width="2" stroke-linejoin="round"/>
<polyline points="92.2,791 438.7,791 448,790 456.9,789.5 466.2,789 475.2,788.7 484.5,788.4 493.8,788.2 502.2,788 511.4,788.1 520.4,788 529.7,787.9 538.7,787.9 548,787.9 557.3,787.6 566.2,785.5 575.5,784 584.5,781 593.8,780 603.1,780 611.8,780.1 621,780.6 630,773.4 639.3,767.3 648.3,764 657.6,763.2 666.9,763.5 675.8,764.4 685.1,770.6 694.1,771.6 703.4,773.9 712.7,770.6 721.1,767.7 730.3,769.9 739.3,768.6 748.6,767.7 757.6,772.3 766.9,774.4 776.2,767.7 785.1,762.2 794.4,764.4 803.4,765.5 812.7,768.4 822,768.8 830.4,762.5 839.6,761.6 848.6,762.5 857.9,760.6 866.9,759 876.2,759 885.5,759 894.4,758.6 903.7,758.2 912.7,758.2 922,758.8 931.3,759.6 939.7,757.1 948.9,757 957.9,757.2 967.2,743 976.2,745.5 985.5,747 994.8,752.9" fill="none" stroke="#ffa64d" stroke-width="2" stroke-linejoin="round"/>
<rect x="92.2" y="792" width="346.5" height="1" fill="#f2b679"/>
<polyline points="92.2,791 438.7,791 448,788 456.9,787 466.2,786.5 475.2,786 484.5,785.2 493.8,783 502.2,781.4 511.4,782 520.4,782.3 529.7,782.5 538.7,782.8 548,783 557.3,780.4 566.2,769.4 575.5,764 584.5,759.5 593.8,757 603.1,754.4 611.8,755.2 621,759.5 630,738 639.3,735 648.3,733 657.6,735 666.9,737 675.8,739 685.1,741 694.1,743 703.4,748 712.7,736 721.1,732 730.3,730 739.3,727.5 748.6,726.2 757.6,734 766.9,744.5 776.2,732 785.1,721.2 794.4,723.5 803.4,728.4 812.7,736.2 822,739.1 830.4,727.4 839.6,724.5 848.6,726.4 857.9,717.6 866.9,709.8 876.2,710.4 885.5,713.1 894.4,712.7 903.7,711.8 912.7,703.9 922,706.9 931.3,710.8 939.7,703.4 948.9,705.9 957.9,707.9 967.2,672.1 976.2,674.1 985.5,678.6 994.8,693.6" fill="none" stroke="#c9d1db" stroke-width="2" stroke-linejoin="round"/>
<polyline points="92.2,791 438.7,791 448,787 456.9,784.5 466.2,782 475.2,780.5 484.5,779.1 493.8,773 502.2,766.5 511.4,768.5 520.4,769.6 529.7,770.4 538.7,772.2 548,773.5 557.3,769.3 566.2,751 575.5,738 584.5,728 593.8,730 603.1,724 611.8,720 621,724 630,702 639.3,690 648.3,680 657.6,672 666.9,666 675.8,672 685.1,680 694.1,686 703.4,694 712.7,688 721.1,690 730.3,684 739.3,677.7 748.6,675.2 757.6,686 766.9,696 776.2,668.7 785.1,653 794.4,661.7 803.4,669.7 812.7,682.4 822,687 830.4,666 839.6,657.7 848.6,665.3 857.9,651.7 866.9,634.8 876.2,633.1 885.5,636.1 894.4,638.5 903.7,639 912.7,621.5 922,622 931.3,633.4 939.7,624.2 948.9,630.5 957.9,633.9 967.2,568.5 976.2,568.2 985.5,570.2 994.8,595.7" fill="none" stroke="#d5dbe3" stroke-width="2" stroke-linejoin="round"/>
<rect x="92.2" y="790" width="347.5" height="2" fill="#c8d0da"/>
<circle cx="557.3" cy="769.3" r="5" fill="#d5dbe3"/>
<circle cx="557.3" cy="780.4" r="5" fill="#c9d1db"/>
<circle cx="101.5" cy="791.5" r="8.75" fill="#fff" stroke="#d4d4d4" stroke-width="1.25"/><path d="M104,788.7 A3.5,3.5 0 1 0 104.9,791.1" fill="none" stroke="#a0a0a0" stroke-width="2"/><rect x="101.7" y="790.2" width="4.2" height="1.9" fill="#a0a0a0"/>
<circle cx="129" cy="791.5" r="8.75" fill="#fff" stroke="#d4d4d4" stroke-width="1.25"/><path d="M131.6,788.7 A3.5,3.5 0 1 0 132.4,791.1" fill="none" stroke="#a0a0a0" stroke-width="2"/><rect x="129.2" y="790.2" width="4.2" height="1.9" fill="#a0a0a0"/>
<circle cx="147.3" cy="791.5" r="8.75" fill="#fff" stroke="#d4d4d4" stroke-width="1.25"/><path d="M149.8,788.7 A3.5,3.5 0 1 0 150.7,791.1" fill="none" stroke="#a0a0a0" stroke-width="2"/><rect x="147.5" y="790.2" width="4.2" height="1.9" fill="#a0a0a0"/>
<circle cx="156.6" cy="791.5" r="8.75" fill="#fff" stroke="#d4d4d4" stroke-width="1.25"/><path d="M159.1,788.7 A3.5,3.5 0 1 0 160,791.1" fill="none" stroke="#a0a0a0" stroke-width="2"/><rect x="156.8" y="790.2" width="4.2" height="1.9" fill="#a0a0a0"/>
<circle cx="192.8" cy="791.5" r="8.75" fill="#fff" stroke="#d4d4d4" stroke-width="1.25"/><text x="192.1" y="796" text-anchor="middle" class="mk">2</text>
<circle cx="229.7" cy="791.5" r="8.75" fill="#fff" stroke="#d4d4d4" stroke-width="1.25"/><path d="M232.2,788.7 A3.5,3.5 0 1 0 233.1,791.1" fill="none" stroke="#a0a0a0" stroke-width="2"/><rect x="229.9" y="790.2" width="4.2" height="1.9" fill="#a0a0a0"/>
<circle cx="238.6" cy="791.5" r="8.75" fill="#fff" stroke="#d4d4d4" stroke-width="1.25"/><path d="M241.1,788.7 A3.5,3.5 0 1 0 242,791.1" fill="none" stroke="#a0a0a0" stroke-width="2"/><rect x="238.8" y="790.2" width="4.2" height="1.9" fill="#a0a0a0"/>
<circle cx="266.2" cy="791.5" r="8.75" fill="#fff" stroke="#d4d4d4" stroke-width="1.25"/><path d="M268.7,788.7 A3.5,3.5 0 1 0 269.6,791.1" fill="none" stroke="#a0a0a0" stroke-width="2"/><rect x="266.4" y="790.2" width="4.2" height="1.9" fill="#a0a0a0"/>
<circle cx="283.9" cy="791.5" r="8.75" fill="#fff" stroke="#d4d4d4" stroke-width="1.25"/><path d="M286.4,788.7 A3.5,3.5 0 1 0 287.3,791.1" fill="none" stroke="#a0a0a0" stroke-width="2"/><rect x="284.1" y="790.2" width="4.2" height="1.9" fill="#a0a0a0"/>
<circle cx="293.1" cy="791.5" r="8.75" fill="#fff" stroke="#d4d4d4" stroke-width="1.25"/><path d="M295.6,788.7 A3.5,3.5 0 1 0 296.5,791.1" fill="none" stroke="#a0a0a0" stroke-width="2"/><rect x="293.3" y="790.2" width="4.2" height="1.9" fill="#a0a0a0"/>
<circle cx="311.4" cy="791.5" r="8.75" fill="#fff" stroke="#d4d4d4" stroke-width="1.25"/><path d="M313.9,788.7 A3.5,3.5 0 1 0 314.8,791.1" fill="none" stroke="#a0a0a0" stroke-width="2"/><rect x="311.6" y="790.2" width="4.2" height="1.9" fill="#a0a0a0"/>
<circle cx="393.2" cy="791.5" r="8.75" fill="#fff" stroke="#d4d4d4" stroke-width="1.25"/><text x="392.5" y="796" text-anchor="middle" class="mk">2</text>
<circle cx="402.4" cy="791.5" r="8.75" fill="#fff" stroke="#d4d4d4" stroke-width="1.25"/><path d="M404.9,788.7 A3.5,3.5 0 1 0 405.8,791.1" fill="none" stroke="#a0a0a0" stroke-width="2"/><rect x="402.6" y="790.2" width="4.2" height="1.9" fill="#a0a0a0"/>
<circle cx="429.7" cy="791.5" r="8.75" fill="#fff" stroke="#d4d4d4" stroke-width="1.25"/><path d="M432.2,788.7 A3.5,3.5 0 1 0 433.1,791.1" fill="none" stroke="#a0a0a0" stroke-width="2"/><rect x="429.9" y="790.2" width="4.2" height="1.9" fill="#a0a0a0"/>
<circle cx="439" cy="791.5" r="8.75" fill="#fff" stroke="#d4d4d4" stroke-width="1.25"/><path d="M441.5,788.7 A3.5,3.5 0 1 0 442.4,791.1" fill="none" stroke="#a0a0a0" stroke-width="2"/><rect x="439.2" y="790.2" width="4.2" height="1.9" fill="#a0a0a0"/>
<circle cx="502.5" cy="791.5" r="8.75" fill="#fff" stroke="#d4d4d4" stroke-width="1.25"/><path d="M505,788.7 A3.5,3.5 0 1 0 505.9,791.1" fill="none" stroke="#a0a0a0" stroke-width="2"/><rect x="502.7" y="790.2" width="4.2" height="1.9" fill="#a0a0a0"/>
<circle cx="511.7" cy="791.5" r="8.75" fill="#fff" stroke="#d4d4d4" stroke-width="1.25"/><path d="M514.2,788.7 A3.5,3.5 0 1 0 515.1,791.1" fill="none" stroke="#a0a0a0" stroke-width="2"/><rect x="511.9" y="790.2" width="4.2" height="1.9" fill="#a0a0a0"/>
<circle cx="530" cy="791.5" r="8.75" fill="#fff" stroke="#d4d4d4" stroke-width="1.25"/><text x="529.3" y="796" text-anchor="middle" class="mk">2</text>
<circle cx="557.6" cy="791.5" r="8.75" fill="#fff" stroke="#d4d4d4" stroke-width="1.25"/><path d="M560.1,788.7 A3.5,3.5 0 1 0 561,791.1" fill="none" stroke="#a0a0a0" stroke-width="2"/><rect x="557.8" y="790.2" width="4.2" height="1.9" fill="#a0a0a0"/>
<circle cx="566.5" cy="791.5" r="8.75" fill="#fff" stroke="#d4d4d4" stroke-width="1.25"/><path d="M569,788.7 A3.5,3.5 0 1 0 569.9,791.1" fill="none" stroke="#a0a0a0" stroke-width="2"/><rect x="566.7" y="790.2" width="4.2" height="1.9" fill="#a0a0a0"/>
<circle cx="575.8" cy="791.5" r="8.75" fill="#fff" stroke="#d4d4d4" stroke-width="1.25"/><path d="M578.3,788.7 A3.5,3.5 0 1 0 579.2,791.1" fill="none" stroke="#a0a0a0" stroke-width="2"/><rect x="576" y="790.2" width="4.2" height="1.9" fill="#a0a0a0"/>
<circle cx="584.8" cy="791.5" r="8.75" fill="#fff" stroke="#d4d4d4" stroke-width="1.25"/><path d="M587.3,788.7 A3.5,3.5 0 1 0 588.2,791.1" fill="none" stroke="#a0a0a0" stroke-width="2"/><rect x="585" y="790.2" width="4.2" height="1.9" fill="#a0a0a0"/>
<circle cx="594.1" cy="791.5" r="8.75" fill="#fff" stroke="#d4d4d4" stroke-width="1.25"/><text x="593.4" y="796" text-anchor="middle" class="mk">2</text>
<circle cx="630.3" cy="791.5" r="8.75" fill="#fff" stroke="#d4d4d4" stroke-width="1.25"/><path d="M632.8,788.7 A3.5,3.5 0 1 0 633.7,791.1" fill="none" stroke="#a0a0a0" stroke-width="2"/><rect x="630.5" y="790.2" width="4.2" height="1.9" fill="#a0a0a0"/>
<circle cx="657.9" cy="791.5" r="8.75" fill="#fff" stroke="#d4d4d4" stroke-width="1.25"/><path d="M660.4,788.7 A3.5,3.5 0 1 0 661.3,791.1" fill="none" stroke="#a0a0a0" stroke-width="2"/><rect x="658.1" y="790.2" width="4.2" height="1.9" fill="#a0a0a0"/>
<circle cx="667.2" cy="791.5" r="8.75" fill="#fff" stroke="#d4d4d4" stroke-width="1.25"/><path d="M669.7,788.7 A3.5,3.5 0 1 0 670.6,791.1" fill="none" stroke="#a0a0a0" stroke-width="2"/><rect x="667.4" y="790.2" width="4.2" height="1.9" fill="#a0a0a0"/>
<circle cx="685.4" cy="791.5" r="8.75" fill="#fff" stroke="#d4d4d4" stroke-width="1.25"/><path d="M687.9,788.7 A3.5,3.5 0 1 0 688.8,791.1" fill="none" stroke="#a0a0a0" stroke-width="2"/><rect x="685.6" y="790.2" width="4.2" height="1.9" fill="#a0a0a0"/>
<circle cx="694.4" cy="791.5" r="8.75" fill="#fff" stroke="#d4d4d4" stroke-width="1.25"/><path d="M696.9,788.7 A3.5,3.5 0 1 0 697.8,791.1" fill="none" stroke="#a0a0a0" stroke-width="2"/><rect x="694.6" y="790.2" width="4.2" height="1.9" fill="#a0a0a0"/>
<circle cx="713" cy="791.5" r="8.75" fill="#fff" stroke="#d4d4d4" stroke-width="1.25"/><path d="M715.5,788.7 A3.5,3.5 0 1 0 716.4,791.1" fill="none" stroke="#a0a0a0" stroke-width="2"/><rect x="713.2" y="790.2" width="4.2" height="1.9" fill="#a0a0a0"/>
<circle cx="730.6" cy="791.5" r="8.75" fill="#fff" stroke="#d4d4d4" stroke-width="1.25"/><path d="M733.1,788.7 A3.5,3.5 0 1 0 734,791.1" fill="none" stroke="#a0a0a0" stroke-width="2"/><rect x="730.8" y="790.2" width="4.2" height="1.9" fill="#a0a0a0"/>
<circle cx="739.6" cy="791.5" r="8.75" fill="#fff" stroke="#d4d4d4" stroke-width="1.25"/><text transform="translate(739.2,795.9) scale(1.05,1.38)" text-anchor="middle" class="mka">a</text>
<circle cx="748.9" cy="791.5" r="8.75" fill="#fff" stroke="#d4d4d4" stroke-width="1.25"/><text x="748.2" y="796" text-anchor="middle" class="mk">5</text>
<circle cx="757.9" cy="791.5" r="8.75" fill="#fff" stroke="#d4d4d4" stroke-width="1.25"/><text x="757.2" y="796" text-anchor="middle" class="mk">2</text>
<circle cx="767.2" cy="791.5" r="8.75" fill="#fff" stroke="#d4d4d4" stroke-width="1.25"/><text x="766.5" y="796" text-anchor="middle" class="mk">2</text>
<circle cx="776.5" cy="791.5" r="8.75" fill="#fff" stroke="#d4d4d4" stroke-width="1.25"/><text transform="translate(776.1,795.9) scale(1.05,1.38)" text-anchor="middle" class="mka">a</text>
<circle cx="794.7" cy="791.5" r="8.75" fill="#fff" stroke="#d4d4d4" stroke-width="1.25"/><text x="794" y="796" text-anchor="middle" class="mk">3</text>
<circle cx="803.7" cy="791.5" r="8.75" fill="#fff" stroke="#d4d4d4" stroke-width="1.25"/><path d="M806.2,788.7 A3.5,3.5 0 1 0 807.1,791.1" fill="none" stroke="#a0a0a0" stroke-width="2"/><rect x="803.9" y="790.2" width="4.2" height="1.9" fill="#a0a0a0"/>
<circle cx="813" cy="791.5" r="8.75" fill="#fff" stroke="#d4d4d4" stroke-width="1.25"/><text transform="translate(812.6,795.9) scale(1.05,1.38)" text-anchor="middle" class="mka">a</text>
<circle cx="822.3" cy="791.5" r="8.75" fill="#fff" stroke="#d4d4d4" stroke-width="1.25"/><path d="M824.8,788.7 A3.5,3.5 0 1 0 825.7,791.1" fill="none" stroke="#a0a0a0" stroke-width="2"/><rect x="822.5" y="790.2" width="4.2" height="1.9" fill="#a0a0a0"/>
<circle cx="830.7" cy="791.5" r="8.75" fill="#fff" stroke="#d4d4d4" stroke-width="1.25"/><text x="830" y="796" text-anchor="middle" class="mk">2</text>
<circle cx="848.9" cy="791.5" r="8.75" fill="#fff" stroke="#d4d4d4" stroke-width="1.25"/><text x="848.2" y="796" text-anchor="middle" class="mk">2</text>
<circle cx="858.2" cy="791.5" r="8.75" fill="#fff" stroke="#d4d4d4" stroke-width="1.25"/><text transform="translate(857.8,795.9) scale(1.05,1.38)" text-anchor="middle" class="mka">a</text>
<circle cx="867.2" cy="791.5" r="8.75" fill="#fff" stroke="#d4d4d4" stroke-width="1.25"/><text x="866.5" y="796" text-anchor="middle" class="mk">2</text>
<circle cx="876.5" cy="791.5" r="8.75" fill="#fff" stroke="#d4d4d4" stroke-width="1.25"/><path d="M879,788.7 A3.5,3.5 0 1 0 879.9,791.1" fill="none" stroke="#a0a0a0" stroke-width="2"/><rect x="876.7" y="790.2" width="4.2" height="1.9" fill="#a0a0a0"/>
<circle cx="885.8" cy="791.5" r="8.75" fill="#fff" stroke="#d4d4d4" stroke-width="1.25"/><text x="885.1" y="796" text-anchor="middle" class="mk">2</text>
<circle cx="894.7" cy="791.5" r="8.75" fill="#fff" stroke="#d4d4d4" stroke-width="1.25"/><text x="894" y="796" text-anchor="middle" class="mk">2</text>
<circle cx="913" cy="791.5" r="8.75" fill="#fff" stroke="#d4d4d4" stroke-width="1.25"/><text x="912.3" y="796" text-anchor="middle" class="mk">2</text>
<circle cx="931.6" cy="791.5" r="8.75" fill="#fff" stroke="#d4d4d4" stroke-width="1.25"/><path d="M934.1,788.7 A3.5,3.5 0 1 0 935,791.1" fill="none" stroke="#a0a0a0" stroke-width="2"/><rect x="931.8" y="790.2" width="4.2" height="1.9" fill="#a0a0a0"/>
<circle cx="940" cy="791.5" r="8.75" fill="#fff" stroke="#d4d4d4" stroke-width="1.25"/><text x="939.3" y="796" text-anchor="middle" class="mk">2</text>
<circle cx="949.2" cy="791.5" r="8.75" fill="#fff" stroke="#d4d4d4" stroke-width="1.25"/><path d="M951.7,788.7 A3.5,3.5 0 1 0 952.6,791.1" fill="none" stroke="#a0a0a0" stroke-width="2"/><rect x="949.4" y="790.2" width="4.2" height="1.9" fill="#a0a0a0"/>
<circle cx="967.5" cy="791.5" r="8.75" fill="#fff" stroke="#d4d4d4" stroke-width="1.25"/><text transform="translate(967.1,795.9) scale(1.05,1.38)" text-anchor="middle" class="mka">a</text>
<circle cx="976.5" cy="791.5" r="8.75" fill="#fff" stroke="#d4d4d4" stroke-width="1.25"/><text transform="translate(976.1,795.9) scale(1.05,1.38)" text-anchor="middle" class="mka">a</text>
<circle cx="985.8" cy="791.5" r="8.75" fill="#fff" stroke="#d4d4d4" stroke-width="1.25"/><path d="M988.3,788.7 A3.5,3.5 0 1 0 989.2,791.1" fill="none" stroke="#a0a0a0" stroke-width="2"/><rect x="986" y="790.2" width="4.2" height="1.9" fill="#a0a0a0"/>
<circle cx="995.1" cy="791.5" r="8.75" fill="#fff" stroke="#d4d4d4" stroke-width="1.25"/><path d="M997.6,788.7 A3.5,3.5 0 1 0 998.5,791.1" fill="none" stroke="#a0a0a0" stroke-width="2"/><rect x="995.3" y="790.2" width="4.2" height="1.9" fill="#a0a0a0"/>
<text x="101" y="815.1" text-anchor="middle" class="xl">Jul 2015</text>
<text x="228" y="815.1" text-anchor="middle" class="xl">Sep 2016</text>
<text x="356.5" y="815.1" text-anchor="middle" class="xl">Nov 2017</text>
<text x="483.5" y="815.1" text-anchor="middle" class="xl">Jan 2019</text>
<text x="611.5" y="815.1" text-anchor="middle" class="xl">Mar 2020</text>
<text x="739.1" y="815.1" text-anchor="middle" class="xl">May 2021</text>
<text x="867.2" y="815.1" text-anchor="middle" class="xl">Jul 2022</text>
<text x="994.3" y="815.1" text-anchor="middle" class="xl">Sep 2023</text>
<text x="1060.2" y="555.8" text-anchor="end" class="yl2">8K</text>
<text x="1060.2" y="620.3" text-anchor="end" class="yl2">6K</text>
<text x="1060.2" y="684.8" text-anchor="end" class="yl2">4K</text>
<text x="1060.2" y="749.4" text-anchor="end" class="yl2">2K</text>
<text x="1060.2" y="814.5" text-anchor="end" class="yl2">0</text>
<rect x="569.5" y="224.5" width="167.5" height="73" rx="3.5" fill="#fff" stroke="#e3e3e3" filter="url(#sh)"/>
<text x="582.6" y="252.6" class="tth">September 2019</text>
<text x="582.6" y="280.7" class="ttt">Avg. traffic</text>
<text x="724.5" y="280.7" class="ttt" text-anchor="end">1,158</text>
<rect x="569.5" y="531" width="169" height="210" rx="3.5" fill="#fff" stroke="#e3e3e3" filter="url(#sh)"/>
<text x="582.6" y="557.7" class="tth">September 2019</text>
<text x="582.6" y="586.5" class="ttt">All keywords</text>
<text x="724.5" y="586.5" class="ttt" text-anchor="end">651</text>
<circle cx="590.9" cy="608.4" r="6.4" fill="#dde2e9"/>
<text x="607.3" y="613.2" class="ttt">51+</text>
<text x="724.5" y="613.2" class="ttt" text-anchor="end">371</text>
<circle cx="590.9" cy="636" r="6.4" fill="#c8cfd9"/>
<text x="607.3" y="640.8" class="ttt">21–50</text>
<text x="724.5" y="640.8" class="ttt" text-anchor="end">174</text>
<circle cx="590.9" cy="663.6" r="6.4" fill="#ffa64d"/>
<text x="607.3" y="668.4" class="ttt">11–20</text>
<text x="724.5" y="668.4" class="ttt" text-anchor="end">55</text>
<circle cx="590.9" cy="691.2" r="6.4" fill="#ff8800"/>
<text x="607.3" y="696" class="ttt">4–10</text>
<text x="724.5" y="696" class="ttt" text-anchor="end">42</text>
<circle cx="590.9" cy="718.8" r="6.4" fill="#c86400"/>
<text x="607.3" y="723.6" class="ttt">1–3</text>
<text x="724.5" y="723.6" class="ttt" text-anchor="end">9</text>
<rect x="640" y="645" width="154" height="153" rx="6" fill="#000" fill-opacity="0.2"/>
<rect x="673.3" y="682" width="87.8" height="80" rx="17" fill="#000" fill-opacity="0.02" stroke="#fff" stroke-width="8.3"/>
<circle cx="686.9" cy="696.1" r="5.1" fill="#fff"/>
<g fill="none" stroke="#fff" stroke-width="1.75" stroke-linejoin="round"><path d="M694.2,717.8 L701.9,711.2 L701.9,732.9"/><path d="M709.2,716.8 C709.6,712.9 712.5,710.9 715.9,710.9 C719.6,710.9 722.4,713.3 722.4,716.7 C722.4,719.5 720.5,721.6 718.3,723.6 L709.3,732.1 L723.4,732.1"/><path d="M727.1,715.2 C727.9,712.4 730.5,710.9 733.6,710.9 C737.0,710.9 739.4,713.0 739.4,716.0 C739.4,719.2 736.9,721.4 733.3,721.4 L731.5,721.4 M733.3,721.4 C737.6,721.4 740.6,723.8 740.6,727.3 C740.6,730.8 737.6,733.1 733.6,733.1 C730.0,733.1 727.2,731.3 726.5,728.6"/></g>
<path d="M730.4,751.3 A19.5,19.5 0 0 0 749.8,731.8" fill="none" stroke="#fff" stroke-width="2"/>
</svg>
</body></html>
